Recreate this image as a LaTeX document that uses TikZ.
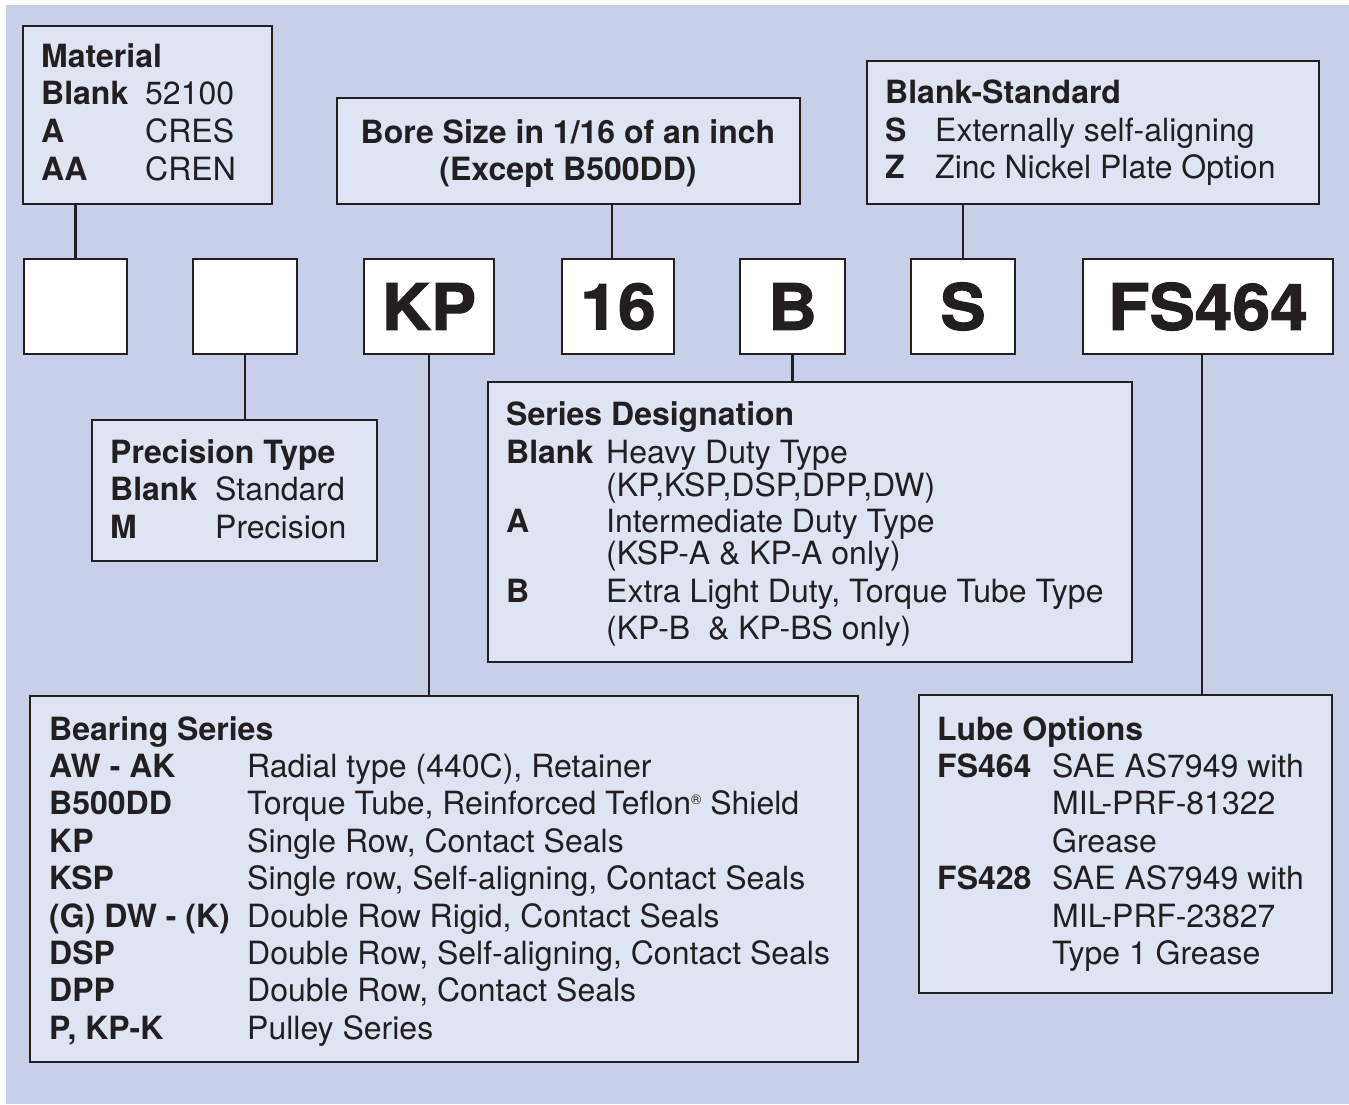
\documentclass[tikz,border=0pt]{standalone}
\usepackage{fontspec}
\setmainfont{TeX Gyre Heros}
\newfontfamily\blackfont[BoldFeatures={FakeBold=1.6,FakeStretch=1.06}]{TeX Gyre Heros}
\definecolor{bgBlue}{HTML}{C8CFE8}
\definecolor{boxBlue}{HTML}{DFE4F2}
\definecolor{inkBlack}{HTML}{231F20}
\usepackage{tikz}
\newcommand{\bodysize}{\fontsize{32}{37}\selectfont}

\tikzset{
  infobox/.style={draw=inkBlack, line width=2.6pt, fill=boxBlue, inner sep=0pt},
  codebox/.style={draw=inkBlack, line width=2.6pt, fill=white, inner sep=0pt, minimum height=95pt, text=inkBlack, font=\fontsize{64}{64}\selectfont\blackfont\bfseries},
  txt/.style={anchor=base west, inner sep=0pt, text=inkBlack, font=\bodysize},
  hd/.style={txt, font=\bodysize\bfseries},
  ctr/.style={anchor=base, inner sep=0pt, text=inkBlack, font=\bodysize\bfseries},
  link/.style={draw=inkBlack, line width=2.6pt}
}

\begin{document}
\begin{tikzpicture}[x=1pt, y=-1pt]
\useasboundingbox (0,0) rectangle (1349,1104);
\fill[bgBlue] (6,5) rectangle (1349,1104);
% option boxes
\node[infobox, minimum width=249pt, minimum height=178pt] (mat) at (147.5,115) {};
\node[infobox, minimum width=463pt, minimum height=106pt] (bore) at (568.5,151) {};
\node[infobox, minimum width=452pt, minimum height=143pt] (std) at (1093,132.5) {};
\node[infobox, minimum width=285pt, minimum height=141pt] (prec) at (234.5,490.5) {};
\node[infobox, minimum width=644pt, minimum height=280pt] (ser) at (810,522) {};
\node[infobox, minimum width=828pt, minimum height=366pt] (bear) at (444,879) {};
\node[infobox, minimum width=413pt, minimum height=298pt] (lube) at (1125.5,844) {};
% part number boxes
\node[codebox, minimum width=103pt] (cmat) at (75.5,306.5) {};
\node[codebox, minimum width=104pt] (cprec) at (245,306.5) {};
\node[codebox, minimum width=130pt] (ckp) at (429,306.5) {KP};
\node[codebox, minimum width=112pt] (cbore) at (618,306.5) {16};
\node[codebox, minimum width=105pt] (cser) at (792.5,306.5) {B};
\node[codebox, minimum width=104pt] (cstd) at (963,306.5) {S};
\node[codebox, minimum width=250pt] (clube) at (1208,306.5) {FS464};
% connectors
\draw[link] (cmat.north) -- (cmat.north |- mat.south);
\draw[link] (cprec.south) -- (cprec.south |- prec.north);
\draw[link] (ckp.south) -- (ckp.south |- bear.north);
\draw[link] ([xshift=-6pt]cbore.north) -- ([xshift=-6pt]cbore.north |- bore.south);
\draw[link] (cser.south) -- (cser.south |- ser.north);
\draw[link] (cstd.north) -- (cstd.north |- std.south);
\draw[link] ([xshift=-6pt]clube.south) -- ([xshift=-6pt]clube.south |- lube.north);
% material
\node[hd] (mat0) at (41,67) {Material};
\node[txt] (mat1) at (41,104) {\makebox[104pt][l]{\bfseries Blank}52100};
\node[txt] (mat2) at (41,142) {\makebox[104pt][l]{\bfseries A}CRES};
\node[txt] (mat3) at (41,180) {\makebox[104pt][l]{\bfseries AA}CREN};
% bore size
\node[ctr] (bore1) at (568,143) {Bore Size in 1/16 of an inch};
\node[ctr] (bore2) at (568,180) {(Except B500DD)};
% standard
\node[hd] (std0) at (885,103) {Blank-Standard};
\node[txt] (std1) at (885,141) {\makebox[50pt][l]{\bfseries S}Externally self-aligning};
\node[txt] (std2) at (885,178) {\makebox[50pt][l]{\bfseries Z}Zinc Nickel Plate Option};
% precision
\node[hd] (prec0) at (110,463) {Precision Type};
\node[txt] (prec1) at (110,500) {\makebox[105pt][l]{\bfseries Blank}Standard};
\node[txt] (prec2) at (110,538) {\makebox[105pt][l]{\bfseries M}Precision};
% series designation
\node[hd] (ser0) at (506,425) {Series Designation};
\node[txt] (ser1) at (506,463) {\makebox[100pt][l]{\bfseries Blank}Heavy Duty Type};
\node[txt] (ser2) at (606,496) {(KP,KSP,DSP,DPP,DW)};
\node[txt] (ser3) at (506,532) {\makebox[100pt][l]{\bfseries A}Intermediate Duty Type};
\node[txt] (ser4) at (606,564) {(KSP-A \& KP-A only)};
\node[txt] (ser5) at (506,602) {\makebox[100pt][l]{\bfseries B}Extra Light Duty, Torque Tube Type};
\node[txt] (ser6) at (606,639) {(KP-B \ \& KP-BS only)};
% bearing series
\node[hd] (bear0) at (49,740) {Bearing Series};
\node[txt] (bear1) at (49,777) {\makebox[198pt][l]{\bfseries AW - AK}Radial type (440C), Retainer};
\node[txt] (bear2) at (49,814) {\makebox[198pt][l]{\bfseries B500DD}Torque Tube, Reinforced Teflon\raisebox{10pt}{\fontsize{14}{14}\selectfont ®} Shield};
\node[txt] (bear3) at (49,852) {\makebox[198pt][l]{\bfseries KP}Single Row, Contact Seals};
\node[txt] (bear4) at (49,889) {\makebox[198pt][l]{\bfseries KSP}Single row, Self-aligning, Contact Seals};
\node[txt] (bear5) at (49,927) {\makebox[198pt][l]{\bfseries (G) DW - (K)}Double Row Rigid, Contact Seals};
\node[txt] (bear6) at (49,964) {\makebox[198pt][l]{\bfseries DSP}Double Row, Self-aligning, Contact Seals};
\node[txt] (bear7) at (49,1001) {\makebox[198pt][l]{\bfseries DPP}Double Row, Contact Seals};
\node[txt] (bear8) at (49,1039) {\makebox[198pt][l]{\bfseries P, KP-K}Pulley Series};
% lube options
\node[hd] (lube0) at (937,740) {Lube Options};
\node[txt] (lube1) at (937,777) {\makebox[115pt][l]{\bfseries FS464}SAE AS7949 with};
\node[txt] (lube2) at (1052,814) {MIL-PRF-81322};
\node[txt] (lube3) at (1052,852) {Grease};
\node[txt] (lube4) at (937,889) {\makebox[115pt][l]{\bfseries FS428}SAE AS7949 with};
\node[txt] (lube5) at (1052,927) {MIL-PRF-23827};
\node[txt] (lube6) at (1052,964) {Type 1 Grease};
\end{tikzpicture}
\end{document}
